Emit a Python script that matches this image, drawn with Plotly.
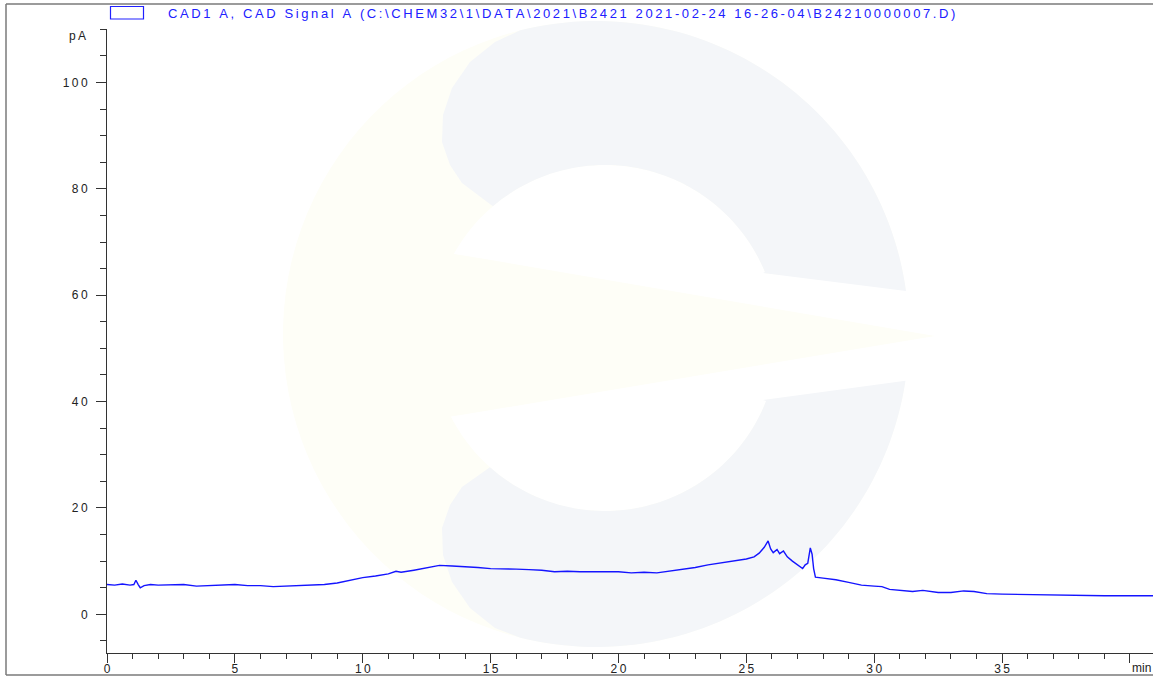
import numpy as np
import plotly.graph_objects as go

# ---- data ----
time_min = [0.0, 0.3, 0.6, 0.9, 1.05, 1.13, 1.22, 1.3, 1.45, 1.7, 2.0, 2.5, 3.0, 3.5, 4.0, 4.5,
            5.0, 5.5, 6.0, 6.5, 7.0, 7.5, 8.0, 8.5, 9.0, 9.5, 10.0, 10.5, 11.0, 11.3, 11.5,
            12.0, 12.5, 13.0, 13.5, 14.0, 14.5, 15.0, 15.5, 16.0, 16.5, 17.0, 17.5, 18.0,
            18.5, 19.0, 19.5, 20.0, 20.5, 21.0, 21.5, 22.0, 22.5, 23.0, 23.5, 24.0, 24.5,
            25.0, 25.3, 25.5, 25.7, 25.85, 25.95, 26.05, 26.2, 26.3, 26.45, 26.6, 26.8,
            27.0, 27.2, 27.3, 27.4, 27.5, 27.57, 27.63, 27.7, 28.0, 28.5, 29.0, 29.5,
            30.0, 30.3, 30.6, 31.0, 31.5, 31.9, 32.5, 33.0, 33.5, 33.9, 34.4, 35.0,
            36.0, 37.0, 38.0, 39.0, 40.0, 40.9]
signal_pA = [5.6, 5.5, 5.7, 5.5, 5.6, 6.4, 5.6, 5.0, 5.4, 5.6, 5.5, 5.5, 5.6, 5.3, 5.4, 5.5,
             5.6, 5.4, 5.4, 5.2, 5.3, 5.5, 5.6, 5.6, 5.9, 6.4, 6.9, 7.2, 7.6, 8.1, 7.9,
             8.3, 8.8, 9.2, 9.1, 9.0, 8.8, 8.6, 8.6, 8.5, 8.4, 8.3, 8.0, 8.1,
             8.0, 8.0, 7.9, 8.0, 7.8, 7.9, 7.8, 8.1, 8.4, 8.8, 9.3, 9.7, 10.1,
             10.4, 10.8, 11.5, 12.6, 13.8, 12.3, 11.6, 12.2, 11.4, 11.9, 10.8, 10.0,
             9.3, 8.6, 9.3, 9.6, 12.5, 11.3, 8.6, 7.0, 6.8, 6.5, 6.0, 5.5,
             5.3, 5.2, 4.7, 4.5, 4.3, 4.5, 4.1, 4.1, 4.4, 4.3, 3.9, 3.8,
             3.7, 3.6, 3.6, 3.5, 3.5, 3.5]

y_ticks = [0, 20, 40, 60, 80, 100]
x_ticks = [0, 5, 10, 15, 20, 25, 30, 35, 40]
title_text = "CAD1 A, CAD Signal A (C:\\CHEM32\\1\\DATA\\2021\\B2421 2021-02-24 16-26-04\\B24210000007.D)"

TS = "\u2009"
def spaced(s):
    return TS.join(s)

W, H = 1153, 677
ML, MR, MT, MB = 107, 0, 29, 24
PW, PH = W - ML - MR, H - MT - MB

def px2paper(px, py):
    return (px - ML) / PW, (H - MB - py) / PH

def path_from(points):
    pts = [px2paper(x, y) for x, y in points]
    return "M " + " L ".join(f"{x:.5f},{y:.5f}" for x, y in pts) + " Z"

def arc(cx, cy, r, a0, a1, n=60):
    a = np.radians(np.linspace(a0, a1, n))
    return list(zip(cx + r * np.cos(a), cy + r * np.sin(a)))

# watermark geometry (pixel space)
OC = (596, 334, 313)
IC = (605, 338, 173)
GRAY = "#f4f6f9"
YEL = "#fefef7"

shapes = []
def add_poly(points, color):
    shapes.append(dict(type="path", xref="paper", yref="paper", path=path_from(points),
                       fillcolor=color, line=dict(width=0), layer="below"))

add_poly(arc(*OC, 0, 360, 120), YEL)
add_poly(arc(*IC, 0, 360, 120), "#ffffff")
add_poly([(763, 273), (930, 291), (930, 381), (763, 400)], "#ffffff")
add_poly([(430, 250), (491, 260), (935, 336), (491, 410), (430, 420)], YEL)
upper = [(763, 273)] + arc(*OC, -7.9, -104) + [(495, 42), (470, 62), (452, 88), (443, 115),
        (442, 142), (450, 165), (462, 183)] + arc(*IC, -130.4, -22.4)
lower = [(763, 400)] + arc(*OC, 8.6, 104) + [(495, 628), (470, 608), (452, 582), (443, 555),
        (442, 528), (450, 505), (462, 487)] + arc(*IC, 131.7, 21.4)
add_poly(upper, GRAY)
add_poly(lower, GRAY)

# frame lines
fx0, fy0 = px2paper(6, 4)
fx1, fy1 = px2paper(1160, 675)
for (x0, y0, x1, y1) in [(fx0, fy0, fx1, fy0), (fx0, fy0, fx0, fy1), (fx0, fy1, fx1, fy1)]:
    shapes.append(dict(type="line", xref="paper", yref="paper", x0=x0, y0=y0, x1=x1, y1=y1,
                       line=dict(color="#7a7a7a", width=1.5), layer="above"))
# legend box
lx0, ly0 = px2paper(110.5, 6.5)
lx1, ly1 = px2paper(143.5, 19)
shapes.append(dict(type="rect", xref="paper", yref="paper", x0=lx0, y0=ly0, x1=lx1, y1=ly1,
                   line=dict(color="#2020ff", width=1.2), fillcolor="rgba(0,0,0,0)", layer="above"))

FONT = "Liberation Sans, Arial, sans-serif"
tx, ty = px2paper(166, 13)
pax, pay = px2paper(88, 36.5)
_, miny = px2paper(0, 668)
annotations = [
    dict(text=spaced(title_text), xref="paper", yref="paper", x=tx, y=ty, xanchor="left",
         yanchor="middle", showarrow=False, font=dict(family=FONT, size=13, color="#2020ff")),
    dict(text=spaced("pA"), xref="paper", yref="paper", x=pax, y=pay, xanchor="right",
         yanchor="middle", showarrow=False, font=dict(family=FONT, size=12, color="#222")),
    dict(text="min", xref="x", yref="paper", x=40, y=miny, xanchor="left",
         yanchor="middle", showarrow=False, font=dict(family=FONT, size=12, color="#222")),
]

fig = go.Figure()
fig.add_trace(go.Scatter(x=time_min, y=signal_pA, mode="lines",
                         line=dict(color="#1414ff", width=1.4), hoverinfo="skip"))

fig.update_layout(
    width=W, height=H, margin=dict(l=ML, r=MR, t=MT, b=MB, autoexpand=False),
    paper_bgcolor="white", plot_bgcolor="white", showlegend=False,
    shapes=shapes, annotations=annotations,
    font=dict(family=FONT, size=12, color="#222"),
)
fig.update_xaxes(range=[0, 40.9], showgrid=False, zeroline=False, showline=True,
                 linecolor="#333", linewidth=1, ticks="outside", ticklen=9, tickcolor="#333",
                 tickvals=x_ticks, ticktext=[spaced(str(v)) if v != 40 else "" for v in x_ticks],
                 minor=dict(dtick=1, tick0=0, ticks="outside", ticklen=5, tickcolor="#333"),
                 tickfont=dict(family=FONT, size=12, color="#222"), ticklabelstandoff=-4)
fig.update_yaxes(range=[-7.27, 110.05], showgrid=False, zeroline=False, showline=True,
                 linecolor="#333", linewidth=1, ticks="outside", ticklen=10, tickcolor="#333",
                 tickvals=y_ticks, ticktext=[spaced(str(v)) for v in y_ticks],
                 minor=dict(dtick=5, tick0=0, ticks="outside", ticklen=6, tickcolor="#333"),
                 tickfont=dict(family=FONT, size=12, color="#222"), ticklabelstandoff=6)

fig.write_html("out.html", config={"displayModeBar": False},
               post_script="document.body.style.margin='0';document.body.style.overflow='hidden';")
